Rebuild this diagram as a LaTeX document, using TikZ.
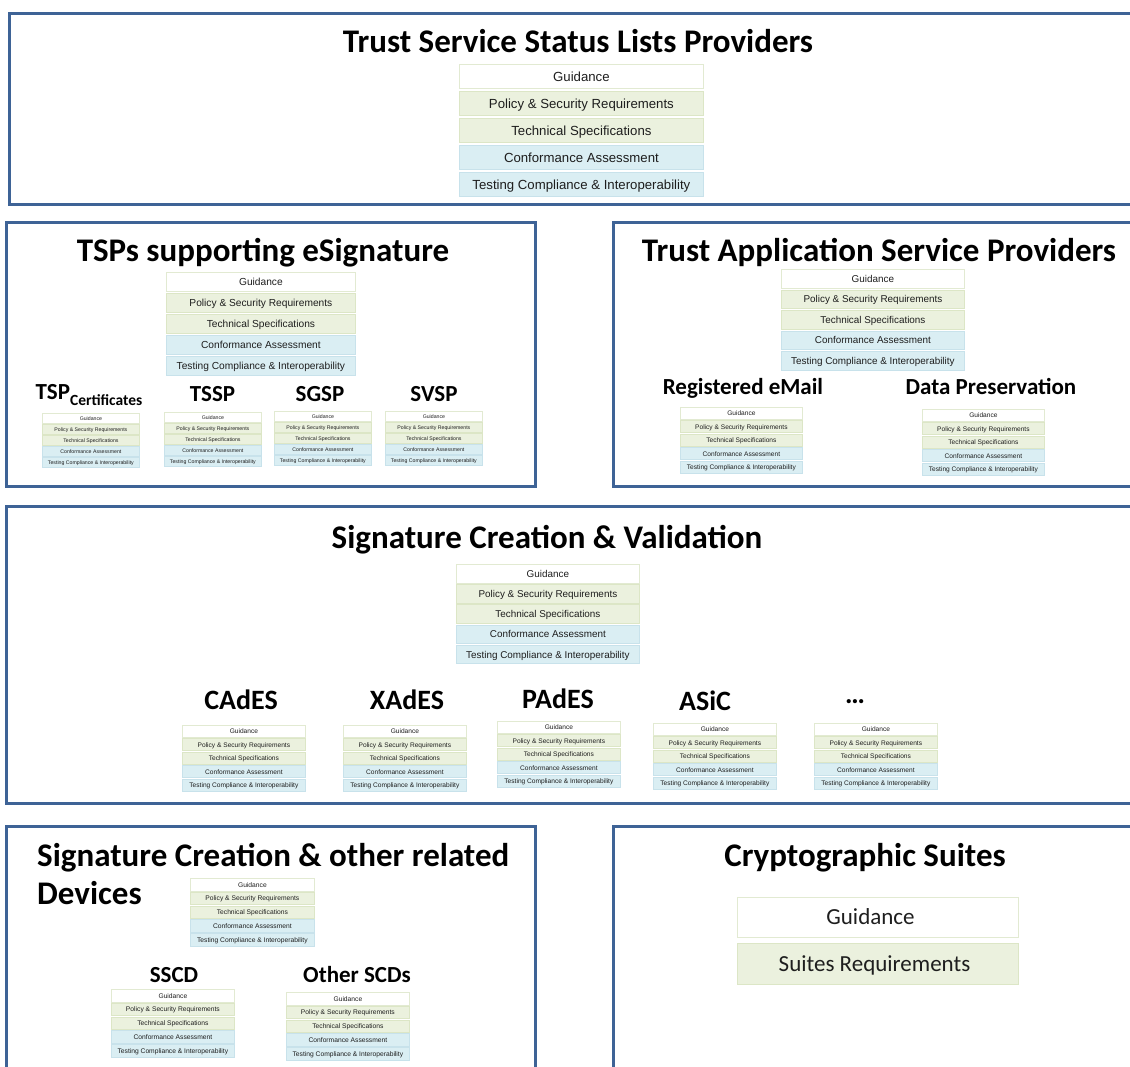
\documentclass[tikz,border=0pt]{standalone}
\usepackage{fontspec}
\setmainfont{Carlito}
\newfontfamily\arialfam{Liberation Sans}

\definecolor{panelblue}{HTML}{3E6396}
\definecolor{guidline}{HTML}{E2EAD2}
\definecolor{polfill}{HTML}{EBF1DE}
\definecolor{polline}{HTML}{DCE6C6}
\definecolor{conffill}{HTML}{DAEEF3}
\definecolor{confline}{HTML}{C8E2EB}
\definecolor{boxtext}{HTML}{1E1E1E}

\tikzset{
  panel/.style={draw=panelblue, line width=3pt},
  layer/.style={line width=0.8pt, inner sep=0pt, text=boxtext, text depth=0pt},
  guid/.style={layer, draw=guidline, fill=white},
  pol/.style={layer, draw=polline, fill=polfill},
  conf/.style={layer, draw=confline, fill=conffill},
  title/.style={font=\fontsize{33}{36}\selectfont\bfseries, anchor=base, inner sep=0pt},
  sublabel/.style={font=\fontsize{23}{26}\selectfont\bfseries, anchor=base, inner sep=0pt},
  biglabel/.style={font=\fontsize{28}{30}\selectfont\bfseries, anchor=base, inner sep=0pt},
}

% #1 name, #2 left x, #3 top y, #4 width, #5 row pitch, #6 row height, #7 font size
\newcommand\layerstack[7]{%
  \foreach \lbl/\sty [count=\i from 0] in {Guidance/guid,
      Policy \& Security Requirements/pol,
      Technical Specifications/pol,
      Conformance Assessment/conf,
      Testing Compliance \& Interoperability/conf}{%
    \node[\sty, anchor=north west, minimum width=#4pt, minimum height=#6pt,
          text height={0.74*#7pt},
          font=\arialfam\fontsize{#7}{#7}\selectfont]
      (#1-\i) at ({#2},{#3+\i*#5}) {\lbl};
  }%
}

\begin{document}
\begin{tikzpicture}[x=1pt, y=-1pt]
\useasboundingbox (0,0) rectangle (1130,1066);
\clip (0,0) rectangle (1130,1066);

% frames
\draw[panel] (9.5,13.5) rectangle (1145,204.5);
\draw[panel] (6.5,222.5) rectangle (535,486.5);
\draw[panel] (613.5,222.5) rectangle (1145,486.5);
\draw[panel] (6.5,506.5) rectangle (1145,803);
\draw[panel] (6.5,826) rectangle (535,1085);
\draw[panel] (613.5,826) rectangle (1145,1085);

% Trust Service Status Lists Providers
\node[title] (t-tsl) at (578,52) {Trust Service Status Lists Providers};
\layerstack{tsl}{459}{64}{244}{27}{24}{13.2}

% TSPs supporting eSignature
\node[title] (t-tsp) at (263,261) {TSPs supporting eSignature};
\layerstack{tsp}{166}{272}{189}{21}{19}{10.2}
\node[sublabel] (l-tspc) at (89,399) {TSP\raisebox{-6pt}{\fontsize{15.5}{16}\selectfont Certificates}};
\node[sublabel] (l-tssp) at (212.5,401) {TSSP};
\node[sublabel] (l-sgsp) at (320,401) {SGSP};
\node[sublabel] (l-svsp) at (434,401) {SVSP};
\layerstack{tspc}{42}{413}{97}{11}{9.5}{5.2}
\layerstack{tssp}{164}{412}{97}{11}{9.5}{5.2}
\layerstack{sgsp}{274}{411}{97}{11}{9.5}{5.2}
\layerstack{svsp}{385}{411}{97}{11}{9.5}{5.2}

% Trust Application Service Providers
\node[title] (t-tasp) at (879,261) {Trust Application Service Providers};
\layerstack{tasp}{781}{269}{183}{20.5}{18.5}{9.9}
\node[sublabel] (l-rem) at (743,394) {Registered eMail};
\node[sublabel] (l-dp) at (991,394) {Data Preservation};
\layerstack{rem}{680}{407}{122}{13.4}{12}{6.6}
\layerstack{dp}{922}{409}{122}{13.4}{12}{6.6}

% Signature Creation & Validation
\node[title] (t-scv) at (547,548) {Signature Creation \& Validation};
\layerstack{scv}{456}{564}{183}{20.2}{18.5}{9.9}
\node[biglabel] (l-cades) at (241,709) {CAdES};
\node[biglabel] (l-xades) at (407,709) {XAdES};
\node[biglabel] (l-pades) at (558,708) {PAdES};
\node[biglabel] (l-asic) at (705,710) {ASiC};
\node[biglabel] (l-more) at (855,703) {\dots};
\layerstack{cades}{182}{725}{123}{13.4}{12}{6.6}
\layerstack{xades}{343}{725}{123}{13.4}{12}{6.6}
\layerstack{pades}{497}{721}{123}{13.4}{12}{6.6}
\layerstack{asic}{653}{723}{123}{13.4}{12}{6.6}
\layerstack{more}{814}{723}{123}{13.4}{12}{6.6}

% Signature Creation & other related Devices
\node[title, anchor=base west] (t-scd) at (37,866) {Signature Creation \& other related};
\node[title, anchor=base west] (t-dev) at (37,904) {Devices};
\layerstack{scd}{190}{878}{124}{13.8}{12.5}{6.7}
\node[sublabel] (l-sscd) at (174,982) {SSCD};
\node[sublabel] (l-oscd) at (357,982) {Other SCDs};
\layerstack{sscd}{111}{989}{123}{13.8}{12.5}{6.7}
\layerstack{oscd}{286}{992}{123}{13.8}{12.5}{6.7}

% Cryptographic Suites
\node[title] (t-crypto) at (865,866) {Cryptographic Suites};
\node[guid, minimum width=281pt, minimum height=40pt, text height=15pt, font=\fontsize{23}{25}\selectfont] (c-guid) at (877.5,917) {\hspace*{-14pt}Guidance};
\node[pol, minimum width=281pt, minimum height=41pt, text height=15pt, font=\fontsize{23}{25}\selectfont] (c-suites) at (877.5,963.5) {\hspace*{-6pt}Suites Requirements};
\end{tikzpicture}
\end{document}
